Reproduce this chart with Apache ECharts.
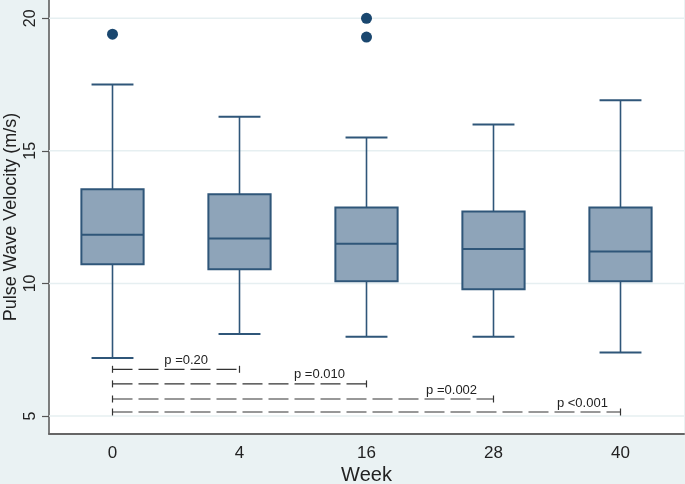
<!DOCTYPE html>
<html>
<head>
<meta charset="utf-8">
<script src="https://cdn.jsdelivr.net/npm/echarts@6/dist/echarts.min.js"></script>
<style>
html,body{margin:0;padding:0;background:#eaf2f3;}
#c{width:685px;height:484px;}
</style>
</head>
<body>
<div id="c"></div>
<script>
// ---- data ----
const weeks = ['0', '4', '16', '28', '40'];
const whiskerLow = [7.19, 8.09, 7.99, 7.99, 7.39];
const q1 = [10.72, 10.53, 10.08, 9.78, 10.08];
const median = [11.84, 11.69, 11.50, 11.30, 11.20];
const q3 = [13.55, 13.36, 12.86, 12.71, 12.86];
const whiskerHigh = [17.50, 16.29, 15.50, 15.99, 16.91];
const outlierWeekIdx = [0, 2, 2];
const outlierValues = [19.40, 20.00, 19.29];
const yTicks = [5, 10, 15, 20];
const pLabels = ['p =0.20', 'p =0.010', 'p =0.002', 'p <0.001'];
const pEndIdx = [1, 2, 3, 4];
const pLineY = [6.76, 6.21, 5.64, 5.15];
const pLabelPos = [0.58, 1.63, 2.67, 3.70];

const boxData = weeks.map((w, i) => [i, whiskerLow[i], q1[i], median[i], q3[i], whiskerHigh[i]]);
const outlierData = outlierWeekIdx.map((k, i) => [k, outlierValues[i]]);
const pData = pEndIdx.map((k, i) => [k, pLineY[i], pLabelPos[i]]);
const gridData = yTicks.map(v => [0, v]);

const boxStroke = '#2f5679';
const boxFill = '#8ea4b9';
const font = 'Liberation Sans, Arial, sans-serif';

const chart = echarts.init(document.getElementById('c'), null, {renderer: 'canvas'});
chart.setOption({
  backgroundColor: '#eaf2f3',
  animation: false,
  grid: {left: 49, right: 1, top: 0, bottom: 50, show: true, backgroundColor: '#ffffff', borderWidth: 0,
         containLabel: false, outerBoundsMode: 'none'},
  xAxis: {
    type: 'category',
    data: weeks,
    name: 'Week',
    nameLocation: 'middle',
    nameGap: 31,
    nameMoveOverlap: false,
    nameTextStyle: {fontSize: 20, color: '#222', fontFamily: font},
    axisLine: {show: true, lineStyle: {color: '#666', width: 2}},
    axisTick: {show: false},
    axisLabel: {fontSize: 17, color: '#222', fontFamily: font, margin: 11},
    splitLine: {show: false}
  },
  yAxis: {
    type: 'value',
    min: 4.32,
    max: 20.69,
    name: 'Pulse Wave Velocity (m/s)',
    nameLocation: 'middle',
    nameGap: 29,
    nameMoveOverlap: false,
    nameTextStyle: {fontSize: 18, color: '#222', fontFamily: font},
    axisLine: {show: true, lineStyle: {color: '#555', width: 1.5}},
    axisTick: {show: true, length: 7, customValues: yTicks, lineStyle: {color: '#555', width: 1.2}},
    axisLabel: {rotate: 90, fontSize: 16, color: '#222', fontFamily: font, margin: 10, customValues: yTicks},
    splitLine: {show: false}
  },
  series: [
    {
      type: 'custom',
      z: 1,
      silent: true,
      data: gridData,
      renderItem: function (params, api) {
        const p = api.coord([0, api.value(1)]);
        const cs = params.coordSys;
        return {type: 'line', shape: {x1: cs.x, y1: p[1], x2: cs.x + cs.width, y2: p[1]},
                style: {stroke: '#e6eff1', lineWidth: 1.5}};
      }
    },
    {
      type: 'custom',
      z: 3,
      data: boxData,
      renderItem: function (params, api) {
        const i = api.value(0);
        const pLo = api.coord([i, api.value(1)]);
        const pQ1 = api.coord([i, api.value(2)]);
        const pMed = api.coord([i, api.value(3)]);
        const pQ3 = api.coord([i, api.value(4)]);
        const pHi = api.coord([i, api.value(5)]);
        const band = api.size([1, 0])[0];
        const hw = band * 0.245, cw = band * 0.165;
        const x = pMed[0];
        const ls = {stroke: boxStroke, lineWidth: 1.6};
        return {type: 'group', children: [
          {type: 'line', shape: {x1: x, y1: pHi[1], x2: x, y2: pQ3[1]}, style: ls},
          {type: 'line', shape: {x1: x, y1: pQ1[1], x2: x, y2: pLo[1]}, style: ls},
          {type: 'line', shape: {x1: x - cw, y1: pHi[1], x2: x + cw, y2: pHi[1]}, style: {stroke: boxStroke, lineWidth: 2}},
          {type: 'line', shape: {x1: x - cw, y1: pLo[1], x2: x + cw, y2: pLo[1]}, style: {stroke: boxStroke, lineWidth: 2}},
          {type: 'rect', shape: {x: x - hw, y: pQ3[1], width: 2 * hw, height: pQ1[1] - pQ3[1]}, style: {fill: boxFill, stroke: boxStroke, lineWidth: 2}},
          {type: 'line', shape: {x1: x - hw, y1: pMed[1], x2: x + hw, y2: pMed[1]}, style: {stroke: boxStroke, lineWidth: 2}}
        ]};
      }
    },
    {
      type: 'scatter',
      z: 4,
      data: outlierData,
      symbol: 'circle',
      symbolSize: 11,
      itemStyle: {color: '#1a476f', opacity: 1}
    },
    {
      type: 'custom',
      z: 5,
      data: pData,
      renderItem: function (params, api) {
        const k = api.value(0);
        const y = api.value(1);
        const lp = api.value(2);
        const p0 = api.coord([0, y]);
        const p1 = api.coord([k, y]);
        const band = api.size([1, 0])[0];
        const lx = p0[0] + lp * band;
        const st = {stroke: '#333', lineWidth: 1.2};
        return {type: 'group', children: [
          {type: 'line', shape: {x1: p0[0], y1: p0[1], x2: p1[0], y2: p1[1]}, style: {stroke: '#333', lineWidth: 1.2, lineDash: [20, 6]}},
          {type: 'line', shape: {x1: p0[0], y1: p0[1] - 3.5, x2: p0[0], y2: p0[1] + 3.5}, style: st},
          {type: 'line', shape: {x1: p1[0], y1: p1[1] - 3.5, x2: p1[0], y2: p1[1] + 3.5}, style: st},
          {type: 'text', x: lx, y: p0[1] - 9, style: {text: pLabels[params.dataIndex], fill: '#222', font: '13px ' + font, align: 'center', verticalAlign: 'middle'}}
        ]};
      }
    }
  ]
});
</script>
</body>
</html>
